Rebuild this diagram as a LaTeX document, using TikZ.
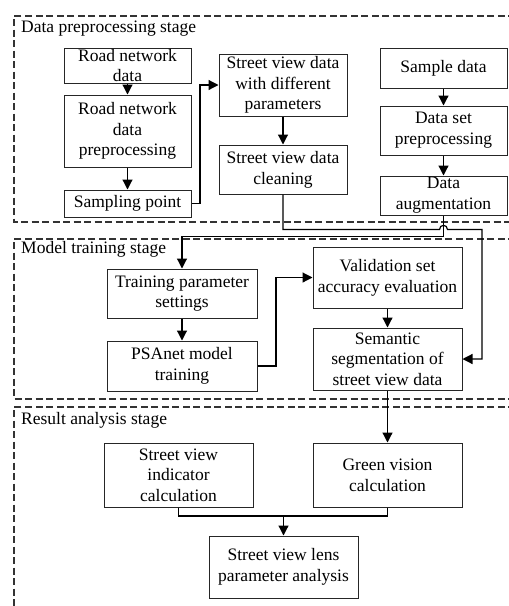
\documentclass[tikz,border=0pt]{standalone}
\usepackage{fontspec}
\setmainfont{Liberation Serif}
\usetikzlibrary{arrows.meta}
\begin{document}
\begin{tikzpicture}[x=1pt,y=-1pt,
  box/.style={draw=black!85,line width=1pt,inner sep=0pt,align=center,
    font=\fontsize{17.5}{20.7}\selectfont},
  conn/.style={line width=1.2pt,black},
  arr/.style={conn,-{Triangle[length=10pt,width=10pt]}},
  frame/.style={draw=black!80,line width=1.1pt,dash pattern=on 7pt off 3.5pt},
  lbl/.style={anchor=base west,inner sep=0pt,font=\fontsize{17.5}{20.7}\selectfont}]
\useasboundingbox (0,0) rectangle (509,606);
\begin{scope}
\clip (0,0) rectangle (509,606);
\draw[frame] (515,16) -- (14,16) -- (14,222) -- (515,222);
\draw[frame] (515,239) -- (14,239) -- (14,399) -- (515,399);
\draw[frame] (515,407) -- (14,407) -- (14,612);
\end{scope}
\node[lbl] (l1) at (21,32) {Data preprocessing stage};
\node[lbl] (l2) at (21,253) {Model training stage};
\node[lbl] (l3) at (21,424) {Result analysis stage};
% data preprocessing
\node[box,minimum width=127pt,minimum height=35pt] (rnd) at (127.5,65.5) {Road network\\data};
\node[box,minimum width=127pt,minimum height=72pt] (rndp) at (127.5,131) {Road network\\data\\preprocessing};
\node[box,minimum width=127pt,minimum height=27pt] (sp) at (127.5,203.5) {Sampling point};
\node[box,minimum width=128pt,minimum height=62pt] (svd) at (283,85) {Street view data\\with different\\parameters};
\node[box,minimum width=128pt,minimum height=49pt] (svc) at (283,169.5) {Street view data\\cleaning};
\node[box,minimum width=127pt,minimum height=40pt] (sd) at (443.5,68) {Sample data};
\node[box,minimum width=127pt,minimum height=49pt] (dsp) at (443.5,130.5) {Data set\\preprocessing};
\node[box,minimum width=127pt,minimum height=39pt] (da) at (443.5,195.5) {Data\\augmentation};
% model training
\node[box,minimum width=150pt,minimum height=49pt] (tps) at (182,293.5) {Training parameter\\settings};
\node[box,minimum width=150pt,minimum height=50pt] (psa) at (182,366) {PSAnet model\\training};
\node[box,minimum width=149pt,minimum height=61pt] (vsa) at (387.5,277.5) {Validation set\\accuracy evaluation};
\node[box,minimum width=149pt,minimum height=62pt] (sem) at (387.5,359) {Semantic\\segmentation of\\street view data};
% result analysis
\node[box,minimum width=149pt,minimum height=64pt] (svi) at (178.5,475) {Street view\\indicator\\calculation};
\node[box,minimum width=149pt,minimum height=64pt] (gv) at (387.5,475) {Green vision\\calculation};
\node[box,minimum width=149pt,minimum height=62pt] (lens) at (283.5,567) {Street view lens\\parameter analysis};
% connectors
\draw[arr] (rnd) -- (rndp);
\draw[arr] (rndp) -- (sp);
\draw[arr] (sp.east) -- (200,203.5) |- (svd.west);
\draw[arr] (svd) -- (svc);
\draw[arr] (sd) -- (dsp);
\draw[arr] (dsp) -- (da);
\draw[arr] (da.south) -- (443.5,236.5) -| (tps.north);
\draw[arr] (svc.south) -- (283,229.5) -- (439.5,229.5)
  .. controls (439.5,224) and (447.5,224) .. (447.5,229.5)
  -- (482,229.5) |- (sem.east);
\draw[arr] (tps) -- (psa);
\draw[arr] (psa.east) -- (276,366) |- (vsa.west);
\draw[arr] (vsa) -- (sem);
\draw[arr] (sem) -- (gv);
\coordinate (j) at (283.5,516);
\draw[conn] (svi.south) |- (j) -| (gv.south);
\draw[arr] (j) -- (lens.north);
\end{tikzpicture}
\end{document}
